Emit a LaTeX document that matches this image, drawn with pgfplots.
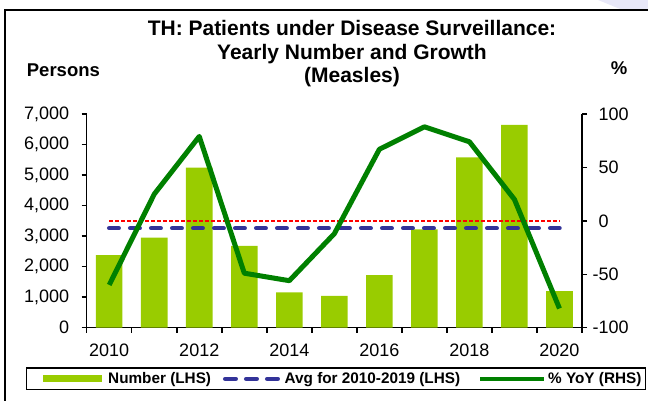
\documentclass[border=0pt]{standalone}
\usepackage{fontspec}
\setmainfont{Liberation Sans}
\usepackage{pgfplots}
\pgfplotsset{compat=1.18}
\definecolor{barc}{RGB}{153,204,0}
\definecolor{avgc}{RGB}{51,51,153}
\definecolor{yoyc}{RGB}{0,128,0}
\definecolor{bgc}{RGB}{232,232,248}
\begin{document}
\begin{tikzpicture}[x=1pt,y=1pt]
\useasboundingbox (0,0) rectangle (648,401);
\fill[bgc] (598,401) -- (648,401) -- (648,390) -- (625,390) -- cycle;
\draw[line width=2pt] (4.7,-5) -- (4.7,390.5) -- (655,390.5);
\node[anchor=base, inner sep=0pt, font=\bfseries\fontsize{21}{23}\selectfont] at (352,365) {TH: Patients under Disease Surveillance:};
\node[anchor=base, inner sep=0pt, font=\bfseries\fontsize{21}{23}\selectfont] at (352,341.7) {Yearly Number and Growth};
\node[anchor=base, inner sep=0pt, font=\bfseries\fontsize{21}{23}\selectfont] at (352,318.3) {(Measles)};
\node[anchor=base west, inner sep=0pt, font=\bfseries\fontsize{18.5}{20}\selectfont] at (26.7,324.3) {Persons};
\node[anchor=base west, inner sep=0pt, font=\bfseries\fontsize{18.5}{20}\selectfont] at (610.7,326) {\%};

\pgfplotsset{
  common/.style={
    at={(86.7pt,73.3pt)}, anchor=south west, scale only axis,
    width=495.3pt, height=213.7pt,
    xmin=-0.5, xmax=10.5,
    axis line style={-, line width=1.5pt, black},
    tick style={line width=1.5pt, black},
    tick align=outside,
    major tick length=5pt, minor tick length=5pt,
    tick label style={font=\fontsize{18}{20}\selectfont},
  }
}

\begin{axis}[common,
  ymin=0, ymax=7000,
  axis x line*=bottom, axis y line*=left,
  xtick={0,2,...,10}, xticklabels={2010,2012,2014,2016,2018,2020},
  major x tick style={draw=none},
  minor xtick={-0.5,0.5,...,10.5},
  ytick={0,1000,...,7000},
  yticklabels={0,{1,000},{2,000},{3,000},{4,000},{5,000},{6,000},{7,000}},
  yticklabel style={xshift=-9pt},
  xticklabel style={yshift=-8pt},
]
\addplot[ybar, bar width=0.59, fill=barc, draw=none] coordinates {
(0,2380) (1,2950) (2,5240) (3,2680) (4,1160) (5,1040) (6,1720) (7,3220) (8,5580) (9,6640) (10,1200)};
\addplot[avgc, line width=4.5pt, line cap=round, dash pattern=on 9.5pt off 11.5pt] coordinates {(0,3260) (10,3260)};
\end{axis}

\begin{axis}[common,
  ymin=-100, ymax=100,
  axis x line=none, axis y line*=right,
  ytick={-100,-50,0,50,100},
  yticklabels={\llap{-}100,\llap{-}50,0,50,100},
  yticklabel style={anchor=west, xshift=8pt},
  legend columns=3,
  legend cell align=left,
  legend style={at={(rel axis cs:-0.1226,-0.1853)}, anchor=north west,
    draw=black, line width=1.5pt, fill=white,
    font=\bfseries\fontsize{15.3}{17}\selectfont,
    nodes={inner sep=0pt},
    inner xsep=3pt, inner ysep=4.5pt,
    column sep=0pt,
    /tikz/every odd column/.append style={column sep=0pt},
    /tikz/every even column/.append style={column sep=0pt}},
]
\addlegendimage{legend image code/.code={\path (0pt,0pt) (77pt,0pt); \draw[barc, line width=6.7pt] (12.7pt,0pt) -- (71.7pt,0pt);}}
\addlegendentry{\makebox[114pt][l]{Number (LHS)}}
\addlegendimage{legend image code/.code={\path (0pt,0pt) (61pt,0pt); \draw[avgc, line width=4.5pt, line cap=round, dash pattern=on 10.5pt off 10.5pt] (2.25pt,0pt) -- (54.75pt,0pt);}}
\addlegendentry{\makebox[193.5pt][l]{Avg for 2010-2019 (LHS)}}
\addlegendimage{legend image code/.code={\path (0pt,0pt) (67pt,0pt); \draw[yoyc, line width=4.5pt] (0pt,0pt) -- (64pt,0pt);}}
\addlegendentry{\makebox[94.3pt][l]{\% YoY (RHS)}}
\addplot[red, line width=1.7pt, dash pattern=on 4pt off 2pt, forget plot] coordinates {(0,0) (10,0)};
\addplot[yoyc, line width=5pt, line join=round, forget plot] coordinates {
(0,-60) (1,25) (2,79) (3,-49) (4,-56) (5,-12) (6,67) (7,88) (8,74) (9,20) (10,-82)};
\end{axis}
\end{tikzpicture}
\end{document}
